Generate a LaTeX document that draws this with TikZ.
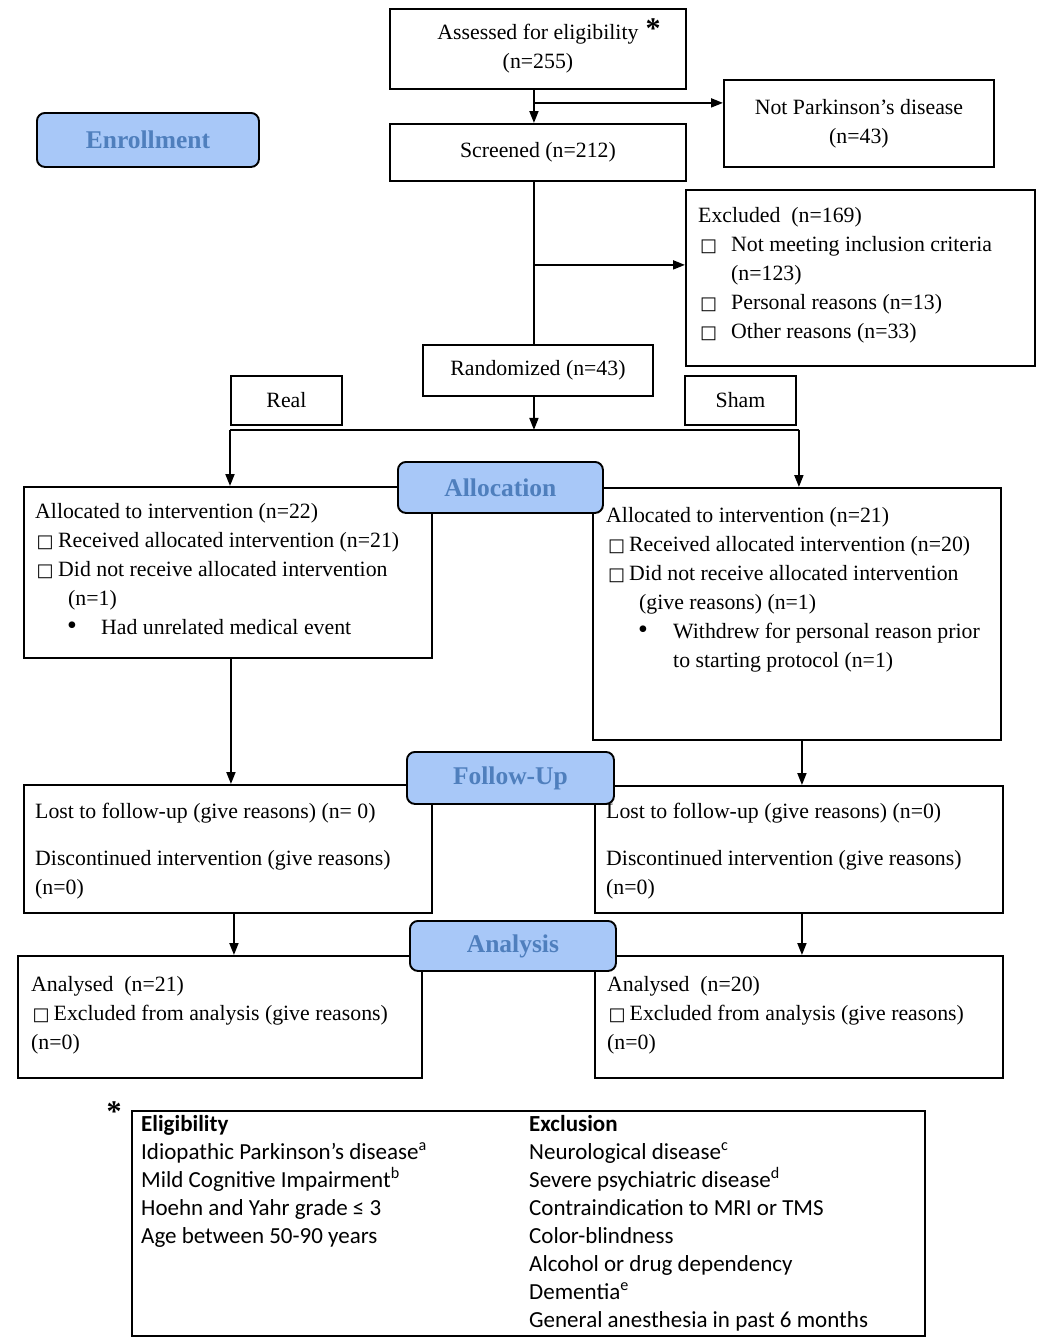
\documentclass[tikz,border=0pt]{standalone}
\usepackage{fontspec}
\setmainfont{Liberation Serif}
\newfontfamily\calib{Carlito}
\newfontfamily\symf{DejaVu Sans}
\usetikzlibrary{arrows.meta,calc}
\definecolor{lblue}{RGB}{168,200,248}
\definecolor{ltext}{RGB}{79,127,189}
\newcommand\mainf{\fontsize{21.8}{29}\selectfont}
\newcommand\cbx{{\symf\fontsize{18}{18}\selectfont □}}
\newcommand\bul{{\fontsize{28}{28}\selectfont •}}
\begin{document}
\begin{tikzpicture}[x=1pt,y=-1pt,
  box/.style={draw, line width=1.9pt, inner sep=0pt, anchor=north west, align=center, font=\mainf},
  lab/.style={draw, line width=1.9pt, rounded corners=8pt, fill=lblue, text=ltext, inner sep=0pt, anchor=north west, font=\bfseries\fontsize{25.5}{25.5}\selectfont},
  txt/.style={inner sep=0pt, anchor=north west, align=left, font=\mainf},
  ctxt/.style={inner sep=0pt, anchor=north west, align=left, font=\calib\fontsize{23}{28}\selectfont},
  ln/.style={line width=1.9pt},
  arr/.style={line width=1.9pt, -{Triangle[length=12pt,width=9pt]}}]
\useasboundingbox (0,0) rectangle (1052,1339);

% Enrollment section
\node[box, minimum width=296pt, minimum height=80pt] (ass) at (389,8) {Assessed for eligibility\\(n=255)};
\node[inner sep=0pt, font=\bfseries\fontsize{30}{30}\selectfont] (ast1) at (653,29) {*};
\node[box, minimum width=270pt, minimum height=87pt] (npd) at (723,79) {Not Parkinson’s disease\\(n=43)};
\node[box, minimum width=296pt, minimum height=57pt] (scr) at (389,123) {Screened (n=212)};
\node[box, minimum width=349pt, minimum height=176pt] (exc) at (685,189) {};
\node[txt] (exct) at (698,207) {Excluded\ \ (n=169)\\
\hspace*{2pt}\makebox[31pt][l]{\cbx}Not meeting inclusion criteria\\
\hspace*{33pt}(n=123)\\
\hspace*{2pt}\makebox[31pt][l]{\cbx}Personal reasons (n=13)\\
\hspace*{2pt}\makebox[31pt][l]{\cbx}Other reasons (n=33)};
\node[box, minimum width=230pt, minimum height=51pt] (ran) at (422,344) {Randomized (n=43)};
\node[box, minimum width=111pt, minimum height=49pt] (real) at (230,375) {Real};
\node[box, minimum width=111pt, minimum height=49pt] (sham) at (684,375) {Sham};

% Allocation
\node[box, minimum width=408pt, minimum height=171pt] (la) at (23,486) {};
\node[txt] (lat) at (35,503) {Allocated to intervention (n=22)\\
\hspace*{1.5pt}\makebox[21.5pt][l]{\cbx}Received allocated intervention (n=21)\\
\hspace*{1.5pt}\makebox[21.5pt][l]{\cbx}Did not receive allocated intervention\\
\hspace*{33pt}(n=1)\\
\hspace*{32pt}\makebox[34pt][l]{\bul}Had unrelated medical event};
\node[box, minimum width=408pt, minimum height=252pt] (ra) at (592,487) {};
\node[txt] (rat) at (606,507) {Allocated to intervention (n=21)\\
\hspace*{2pt}\makebox[21pt][l]{\cbx}Received allocated intervention (n=20)\\
\hspace*{2pt}\makebox[21pt][l]{\cbx}Did not receive allocated intervention\\
\hspace*{33pt}(give reasons) (n=1)\\
\hspace*{32pt}\makebox[35pt][l]{\bul}Withdrew for personal reason prior\\
\hspace*{67pt}to starting protocol (n=1)};

% Follow-up
\node[box, minimum width=408pt, minimum height=128pt] (lf) at (23,784) {};
\node[txt] (lft) at (35,803) {Lost to follow-up (give reasons) (n= 0)\\[18pt]
Discontinued intervention (give reasons)\\
(n=0)};
\node[box, minimum width=408pt, minimum height=127pt] (rf) at (594,785) {};
\node[txt] (rft) at (606,803) {Lost to follow-up (give reasons) (n=0)\\[18pt]
Discontinued intervention (give reasons)\\
(n=0)};

% Analysis
\node[box, minimum width=404pt, minimum height=122pt] (lan) at (17,955) {};
\node[txt] (lant) at (31,976) {Analysed\ \ (n=21)\\
\hspace*{1.5pt}\makebox[21pt][l]{\cbx}Excluded from analysis (give reasons)\\
(n=0)};
\node[box, minimum width=408pt, minimum height=122pt] (ran2) at (594,955) {};
\node[txt] (rant) at (607,976) {Analysed\ \ (n=20)\\
\hspace*{1.5pt}\makebox[21pt][l]{\cbx}Excluded from analysis (give reasons)\\
(n=0)};

% criteria
\node[inner sep=0pt, font=\bfseries\fontsize{30}{30}\selectfont] (ast2) at (114,1112) {*};
\node[box, minimum width=793pt, minimum height=225pt] (crit) at (131,1110) {};
\node[ctxt] (elig) at (141,1115) {\textbf{Eligibility}\\
Idiopathic Parkinson’s disease\textsuperscript{a}\\
Mild Cognitive Impairment\textsuperscript{b}\\
Hoehn and Yahr grade ≤ 3\\
Age between 50-90 years};
\node[ctxt] (excl) at (529,1115) {\textbf{Exclusion}\\
Neurological disease\textsuperscript{c}\\
Severe psychiatric disease\textsuperscript{d}\\
Contraindication to MRI or TMS\\
Color-blindness\\
Alcohol or drug dependency\\
Dementia\textsuperscript{e}\\
General anesthesia in past 6 months};

% connectors
\draw[arr] ([xshift=-4pt]ass.south) -- ([xshift=-4pt]scr.north);
\coordinate (j1) at ($(ass.south)+(-4,13)$);
\draw[arr] (j1) -- (j1 -| npd.west);
\draw[ln] ([xshift=-4pt]scr.south) -- ([xshift=-4pt]ran.north);
\coordinate (j2) at ($(scr.south)+(-4,83)$);
\draw[arr] (j2) -- (j2 -| exc.west);
\coordinate (j3) at ($(ran.south)+(-4,33)$);
\draw[arr] ([xshift=-4pt]ran.south) -- (j3);
\draw[ln] (j3 -| real.west) -- ([xshift=2pt]j3 -| sham.east);
\draw[arr] (j3 -| real.west) -- (real.west |- la.north);
\draw[arr] ([xshift=2pt]j3 -| sham.east) -- ([xshift=2pt]sham.east |- ra.north);
\draw[arr] ([xshift=3pt]la.south) -- ([xshift=3pt]la.south |- lf.north);
\draw[arr] ([xshift=5pt]ra.south) -- ([xshift=5pt]ra.south |- rf.north);
\draw[arr] ([xshift=6pt]lf.south) -- ([xshift=6pt]lf.south |- lan.north);
\draw[arr] ([xshift=3pt]rf.south) -- ([xshift=3pt]rf.south |- ran2.north);

% stage labels
\node[lab, minimum width=222pt, minimum height=54pt] (enr) at (36,112) {Enrollment};
\node[lab, minimum width=205pt, minimum height=51pt] (alc) at (397,461) {Allocation};
\node[lab, minimum width=207pt, minimum height=52pt] (fup) at (406,751) {Follow-Up};
\node[lab, minimum width=206pt, minimum height=50pt] (anl) at (409,920) {Analysis};
\end{tikzpicture}
\end{document}
